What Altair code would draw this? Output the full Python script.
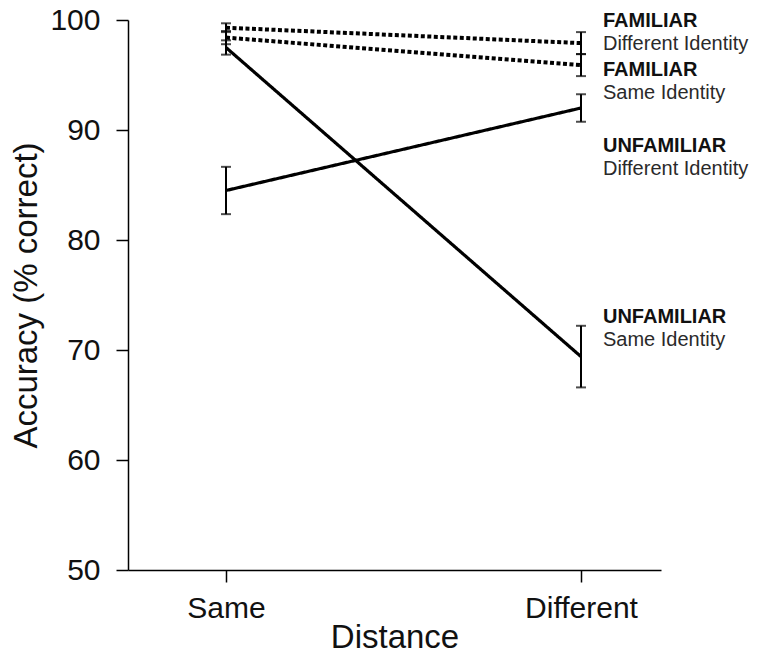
import altair as alt
import pandas as pd

# ---- data ----
distance_labels = ["Same", "Different"]
distance_pos = [0, 1]

series = ["FD", "FS", "UD", "US"]
familiarity = ["Familiar", "Familiar", "Unfamiliar", "Unfamiliar"]
identity = ["Different Identity", "Same Identity", "Different Identity", "Same Identity"]

mean_same = [99.3, 98.4, 84.5, 97.5]
mean_diff = [97.9, 95.9, 92.0, 69.4]
err_same = [0.4, 0.6, 2.15, 0.65]
err_diff = [1.0, 1.0, 1.25, 2.8]

label_head = ["FAMILIAR", "FAMILIAR", "UNFAMILIAR", "UNFAMILIAR"]
label_sub = ["Different Identity", "Same Identity", "Different Identity", "Same Identity"]
label_y = [99.36, 94.91, 88.0, 72.45]

rows = []
for i, s in enumerate(series):
    for j, x in enumerate(distance_pos):
        m = [mean_same, mean_diff][j][i]
        e = [err_same, err_diff][j][i]
        rows.append({"series": s, "fam": familiarity[i], "x": x,
                     "mean": m, "lo": m - e, "hi": m + e})
df = pd.DataFrame(rows)

lab = pd.DataFrame({"head": label_head, "sub": label_sub, "y": label_y,
                    "x": [1] * 4, "fam": familiarity})

FONT = "Liberation Sans"

xscale = alt.Scale(domain=[-0.276, 1.2254], nice=False, zero=False)
yscale = alt.Scale(domain=[50, 100], nice=False, zero=False)

xaxis = alt.Axis(values=distance_pos,
                 labelExpr="datum.value == 0 ? 'Same' : 'Different'",
                 grid=False, tickSize=12, labelFontSize=30, titleFontSize=33,
                 labelPadding=11, titlePadding=-2, labelFlush=False)
yaxis = alt.Axis(values=[50, 60, 70, 80, 90, 100], grid=False, tickSize=12,
                 labelFontSize=30, titleFontSize=33, labelPadding=16,
                 titlePadding=6)

base = alt.Chart(df)

lines = base.mark_line(color="black").encode(
    x=alt.X("x:Q", scale=xscale, axis=xaxis, title="Distance"),
    y=alt.Y("mean:Q", scale=yscale, axis=yaxis, title="Accuracy (% correct)"),
    detail="series:N",
    strokeDash=alt.StrokeDash("fam:N", scale=alt.Scale(
        domain=["Familiar", "Unfamiliar"], range=[[4, 2.5], [1, 0]]), legend=None),
    strokeWidth=alt.StrokeWidth("fam:N", scale=alt.Scale(
        domain=["Familiar", "Unfamiliar"], range=[4, 3.2]), legend=None),
)

rules = base.mark_rule(color="black", strokeWidth=2).encode(
    x="x:Q", y="lo:Q", y2="hi:Q")
cap_lo = base.mark_tick(color="black", orient="horizontal", size=10,
                        thickness=2).encode(x="x:Q", y="lo:Q")
cap_hi = base.mark_tick(color="black", orient="horizontal", size=10,
                        thickness=2).encode(x="x:Q", y="hi:Q")

heads = alt.Chart(lab).mark_text(align="left", baseline="alphabetic", dx=22,
                                 fontSize=20, font=FONT, fontWeight="bold",
                                 color="#111").encode(
    x="x:Q", y="y:Q", text="head:N")
subs = alt.Chart(lab).mark_text(align="left", baseline="alphabetic", dx=22,
                                dy=23, fontSize=20, font=FONT,
                                color="#2a2a2a").encode(
    x="x:Q", y="y:Q", text="sub:N")

chart = alt.layer(rules, cap_lo, cap_hi, lines, heads, subs).properties(
    width=533, height=550,
    autosize=alt.AutoSizeParams(type="none"),
    padding={"left": 120, "top": 12, "right": 91, "bottom": 82},
).configure_view(stroke=None).configure_axis(
    labelFont=FONT, titleFont=FONT, labelColor="#111", titleColor="#111",
    titleFontWeight="normal", domainColor="black", tickColor="black",
    domainWidth=1.5, tickWidth=1.5,
)

chart.save("out.html", embed_options={"renderer": "svg", "actions": False})
